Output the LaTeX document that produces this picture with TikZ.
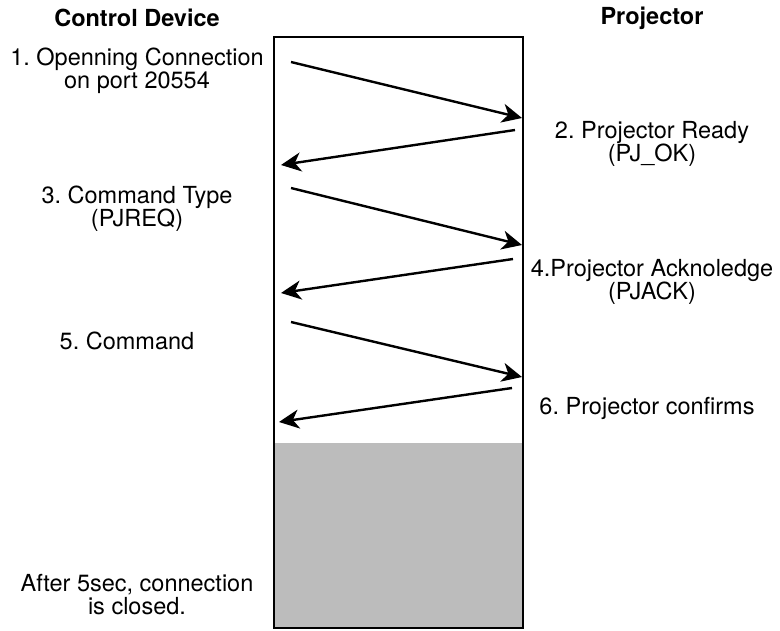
\documentclass[tikz,border=0pt]{standalone}
\usepackage{fontspec}
\setmainfont{TeX Gyre Heros}
\usetikzlibrary{arrows.meta}
\definecolor{closedgray}{RGB}{188,188,188}
\frenchspacing

\begin{document}
\begin{tikzpicture}[
  x=1pt, y=-1pt,
  lbl/.style={font=\fontsize{23.5}{23}\selectfont, align=center, inner sep=0pt},
  head/.style={lbl, font=\fontsize{23.5}{23}\selectfont\bfseries},
  msg/.style={-{Stealth[length=20pt, width=19pt, inset=6pt]}, line width=2.4pt},
]
\useasboundingbox (0,0) rectangle (780,630);

% ══ Column positions ══
\def\xl{137}
\def\xr{652}

% ══ Session box ══
\fill[closedgray] (274,443) rectangle (523,628);
\draw[line width=2pt] (274,37) rectangle (523,628);

% ══ Headers ══
\node[head] (hctrl) at (\xl, 18) {Control Device};
\node[head] (hproj) at (\xr, 18) {Projector};

% ══ Control device side ══
\node[lbl] (open) at (\xl, 71) {1. Openning Connection\\on port 20554};
\node[lbl] (ctype) at (\xl, 209) {3. Command Type\\(PJREQ)};
\node[lbl] (cmd) at (127, 341) {5. Command};
\node[lbl] (close) at (\xl, 595) {After 5sec, connection\\is closed.};

% ══ Projector side ══
\node[lbl] (ready) at (\xr, 144) {2. Projector Ready\\(PJ\_OK)};
\node[lbl] (ack) at (\xr, 282) {4.Projector Acknoledge\\(PJACK)};
\node[lbl] (conf) at (647, 408) {6. Projector confirms};

% ══ Message ends ══
\coordinate (s1) at (291, 62);  \coordinate (e1) at (522, 118);
\coordinate (s2) at (515, 130); \coordinate (e2) at (281, 165);
\coordinate (s3) at (291, 188); \coordinate (e3) at (522, 245);
\coordinate (s4) at (513, 259); \coordinate (e4) at (281, 293);
\coordinate (s5) at (291, 322); \coordinate (e5) at (522, 377);
\coordinate (s6) at (512, 388); \coordinate (e6) at (279, 422);

% ══ Messages ══
\foreach \i in {1,...,6}
  \draw[msg] (s\i) -- (e\i);

\end{tikzpicture}
\end{document}
